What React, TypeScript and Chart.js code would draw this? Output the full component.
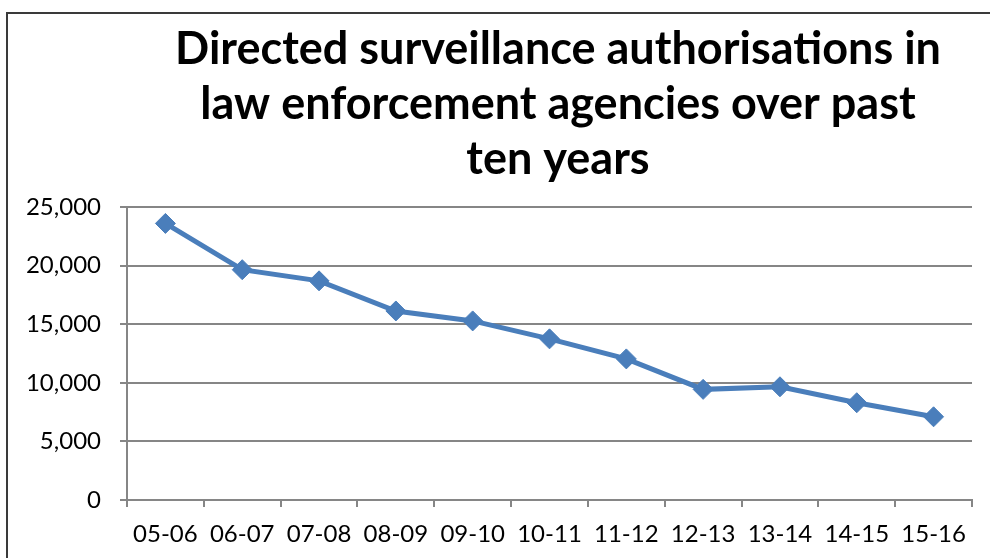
import React, { useEffect, useRef } from "react";
import { Chart, registerables } from "chart.js";

Chart.register(...registerables);

const categories = ["05-06", "06-07", "07-08", "08-09", "09-10", "10-11", "11-12", "12-13", "13-14", "14-15", "15-16"];
const authorisations = [23600, 19650, 18700, 16130, 15280, 13750, 12040, 9440, 9660, 8300, 7100];
const titleLines = ["Directed surveillance authorisations in", "law enforcement agencies over past", "ten years"];

const FONT = "Lato, 'Open Sans', sans-serif";
const LINE = "#4A7EBB";
const GRID = "#868686";

const titlePlugin = {
  id: "customTitle",
  afterDraw(chart: any) {
    const ctx = chart.ctx;
    ctx.save();
    ctx.fillStyle = "#000";
    ctx.font = `bold 45px ${FONT}`;
    ctx.textAlign = "center";
    ctx.textBaseline = "alphabetic";
    const baselines = [64, 119, 174];
    titleLines.forEach((t, i) => ctx.fillText(t, 558, baselines[i]));
    ctx.restore();
  },
};

export default function App() {
  const ref = useRef<HTMLCanvasElement>(null);
  useEffect(() => {
    if (!ref.current) return;
    const chart = new Chart(ref.current, {
      type: "line",
      data: {
        labels: categories,
        datasets: [
          {
            data: authorisations,
            borderColor: LINE,
            backgroundColor: LINE,
            borderWidth: 5,
            pointStyle: "rectRot",
            pointRadius: 10,
            pointBorderWidth: 1,
            pointBackgroundColor: LINE,
            pointBorderColor: LINE,
            tension: 0,
          },
        ],
      },
      options: {
        responsive: false,
        animation: false,
        layout: { padding: { top: 207, right: 18, left: 0, bottom: 0 } },
        plugins: { legend: { display: false }, title: { display: false }, tooltip: { enabled: false } },
        scales: {
          x: {
            offset: true,
            grid: { offset: true, drawOnChartArea: false, drawTicks: true, tickLength: 7, color: GRID, lineWidth: 2 },
            border: { display: true, color: GRID, width: 2 },
            ticks: { color: "#000", font: { family: FONT, size: 24 }, padding: 13, maxRotation: 0, autoSkip: false },
            afterFit: (s: any) => { s.height = 58; },
          },
          y: {
            min: 0,
            max: 25000,
            ticks: {
              stepSize: 5000,
              color: "#000",
              font: { family: FONT, size: 24 },
              padding: 19,
              callback: (v: any) => Number(v).toLocaleString("en-US"),
            },
            grid: { color: GRID, lineWidth: 2, tickLength: 7, drawTicks: true },
            border: { display: true, color: GRID, width: 2 },
            afterFit: (s: any) => { s.width = 127; },
          },
        },
      },
      plugins: [titlePlugin],
    });
    return () => chart.destroy();
  }, []);
  return (
    <div style={{ position: "fixed", left: 0, top: 0, width: 990, height: 558, overflow: "hidden", background: "#fff" }}>
      <div style={{ position: "absolute", left: 6, top: 12, width: 1100, height: 1000, border: "2px solid #3a3a3a", boxSizing: "border-box" }} />
      <canvas ref={ref} width={990} height={558} style={{ position: "absolute", left: 0, top: 0, width: 990, height: 558 }} />
    </div>
  );
}
